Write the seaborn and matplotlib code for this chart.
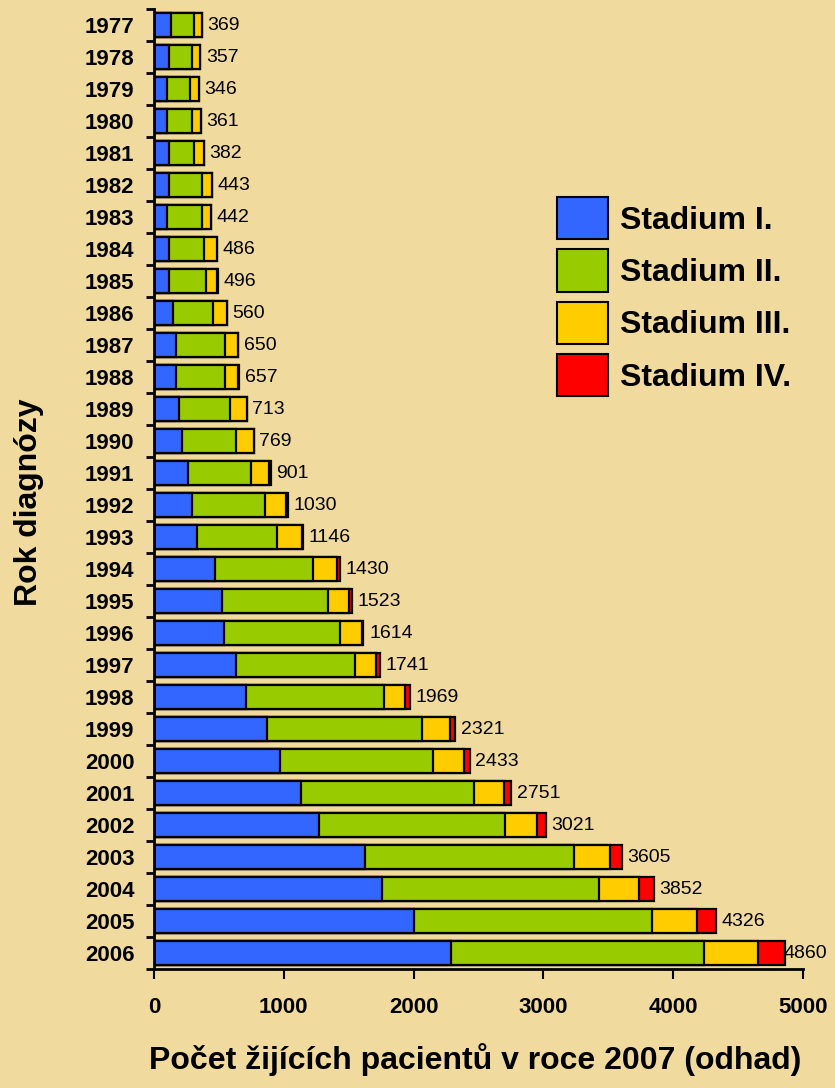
import numpy as np
import pandas as pd
import matplotlib
matplotlib.use("Agg")
import matplotlib.pyplot as plt
import seaborn as sns
from matplotlib.patches import Patch

years = [str(y) for y in range(1977, 2007)]
stage1 = [130, 114, 99, 99, 117, 117, 102, 119, 119, 143, 171, 171, 189, 217, 264,
          291, 335, 468, 525, 543, 633, 705, 869, 969, 1134, 1268, 1623, 1753, 2005, 2290]
stage2 = [177, 177, 177, 192, 190, 253, 268, 263, 278, 310, 375, 375, 398, 416, 487,
          563, 609, 755, 817, 889, 914, 1066, 1197, 1184, 1330, 1434, 1609, 1673, 1828, 1946]
stage3 = [62, 66, 70, 70, 75, 73, 72, 104, 87, 107, 104, 103, 126, 136, 137,
          165, 195, 185, 163, 167, 165, 161, 218, 237, 236, 249, 280, 311, 348, 416]
totals = [369, 357, 346, 361, 382, 443, 442, 486, 496, 560, 650, 657, 713, 769, 901,
          1030, 1146, 1430, 1523, 1614, 1741, 1969, 2321, 2433, 2751, 3021, 3605, 3852, 4326, 4860]
stage_names = ["Stadium I.", "Stadium II.", "Stadium III.", "Stadium IV."]
colors = ["#3366FF", "#99CC00", "#FFCC00", "#FF0000"]
bg = "#F0DA9E"

s1 = np.array(stage1)
s2 = np.array(stage2)
s3 = np.array(stage3)
tot = np.array(totals)
cums = [s1, s1 + s2, s1 + s2 + s3, tot]

sns.set_theme(style="white")
plt.rcParams['font.family'] = ['Liberation Sans', 'DejaVu Sans']
for k in ["text.color", "axes.labelcolor", "xtick.color", "ytick.color"]:
    plt.rcParams[k] = "black"

fig = plt.figure(figsize=(8.35, 10.88), dpi=100, facecolor=bg)
ax = fig.add_axes([154 / 835, 1 - 969 / 1088, (803 - 154) / 835, (969 - 9) / 1088])
ax.set_facecolor(bg)

df = pd.DataFrame({"year": years})
for i in [3, 2, 1, 0]:
    df["v"] = cums[i]
    sns.barplot(data=df, x="v", y="year", orient="h", color=colors[i],
                edgecolor="black", linewidth=1.6, width=0.72, ax=ax,
                saturation=1, zorder=2)

for i, t in enumerate(totals):
    off = 4 if i < len(totals) - 1 else -1
    ax.annotate(str(t), xy=(t, i), xytext=(off, 0), textcoords="offset points",
                va="center", ha="left", fontsize=14, color="black", annotation_clip=False)

ax.set_xlim(0, 5000)
ax.set_ylim(29.5, -0.5)
ax.set_xticks([0, 1000, 2000, 3000, 4000, 5000])
ax.set_xticklabels(["0", "1000", "2000", "3000", "4000", "5000"], fontsize=16, fontweight="bold")
ax.set_yticks(range(len(years)))
ax.set_yticklabels(years, fontsize=16, fontweight="bold")
ax.set_yticks(np.arange(-0.5, 30, 1), minor=True)
ax.tick_params(axis="y", which="major", length=0, pad=14)
ax.tick_params(axis="y", which="minor", length=6, width=2, direction="out", left=True, color="black")
ax.tick_params(axis="x", which="major", length=7, width=1.5, direction="out", bottom=True,
               color="black", pad=13)

for s in ["top", "right"]:
    ax.spines[s].set_visible(False)
for s in ["left", "bottom"]:
    ax.spines[s].set_color("black")
    ax.spines[s].set_linewidth(2)

ax.set_xlabel("Počet žijících pacientů v roce 2007 (odhad)", fontsize=23, fontweight="bold")
ax.set_ylabel("Rok diagnózy", fontsize=23, fontweight="bold")
ax.xaxis.set_label_coords(0.495, -0.077)
ax.yaxis.set_label_coords(-0.169, 0.486)

handles = [Patch(facecolor=c, edgecolor="black", linewidth=1.5, label=n) for c, n in zip(colors, stage_names)]
leg = ax.legend(handles=handles, loc="upper left", bbox_to_anchor=(0.621, 0.804), frameon=False,
                prop={"size": 23, "weight": "bold"}, handlelength=1.6, handleheight=1.65,
                handletextpad=0.38, labelspacing=0.32, borderpad=0, borderaxespad=0)

fig.savefig("out.png", dpi=100, facecolor=bg)
